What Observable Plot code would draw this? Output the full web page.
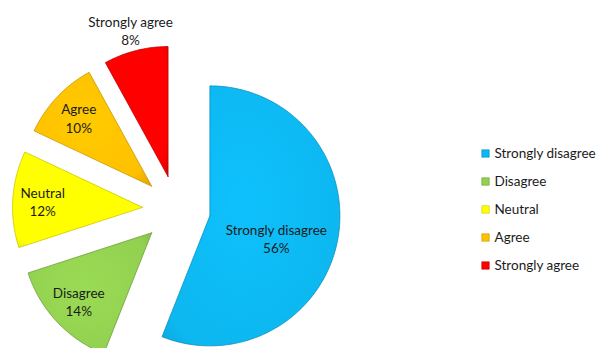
<!DOCTYPE html>
<html>
<head>
<meta charset="utf-8">
<script src="https://cdn.jsdelivr.net/npm/d3@7"></script>
<script src="https://cdn.jsdelivr.net/npm/@observablehq/plot@0.6"></script>
<style>
  html, body { margin: 0; padding: 0; background: #fff; }
  #chart { width: 613px; height: 348px; }
</style>
</head>
<body>
<div id="chart"></div>
<script>
// ---- data ----
const categories = ["Strongly disagree", "Disagree", "Neutral", "Agree", "Strongly agree"];
const shares = [56, 14, 12, 10, 8];
const labelText = ["56%", "14%", "12%", "10%", "8%"];
const colors = ["#0db7ef", "#92d050", "#ffff00", "#ffc000", "#ff0000"];
const edgeColors = ["#0a8fc0", "#6e9e3a", "#c9c900", "#c99700", "#c00000"];

// ---- layout (pixel-like units, center of pie at origin, y downward) ----
const R = 130;         // radius
const explode = 34;    // explosion distance
const font = "Lato, 'Open Sans', sans-serif";

const pie = d3.pie().sort(null).value(d => d)(shares);

const slicePts = [];
const labels = [];
pie.forEach((p, i) => {
  const mid = (p.startAngle + p.endAngle) / 2;
  const ox = explode * Math.sin(mid), oy = -explode * Math.cos(mid);
  slicePts.push({cat: categories[i], x: ox, y: oy});
  const n = Math.max(4, Math.ceil((p.endAngle - p.startAngle) / (Math.PI / 180)));
  for (let k = 0; k <= n; k++) {
    const a = p.startAngle + (p.endAngle - p.startAngle) * k / n;
    slicePts.push({cat: categories[i], x: ox + R * Math.sin(a), y: oy - R * Math.cos(a)});
  }
  slicePts.push({cat: categories[i], x: ox, y: oy});
  const big = shares[i] > 50, tiny = shares[i] < 9;
  const frac = big ? 0.54 : (tiny ? 1.16 : 0.77);
  const la = mid + (big ? 0.14 : 0);
  labels.push({
    cat: categories[i],
    text: categories[i] + "\n" + labelText[i],
    x: ox + frac * R * Math.sin(la),
    y: oy - frac * R * Math.cos(la)
  });
});

// legend rows (positions derived from index)
const legendX = 309, legendY0 = -56, legendStep = 28;
const legend = categories.map((c, i) => ({cat: c, x: legendX, y: legendY0 + i * legendStep}));

const chart = Plot.plot({
  width: 613,
  height: 348,
  margin: 0,
  x: {domain: [-176, 437], range: [0, 613], axis: null},
  y: {domain: [-209, 139], range: [0, 348], axis: null},
  color: {domain: categories, range: colors},
  style: {fontFamily: font, background: "#fff"},
  marks: [
    ...categories.map((c, i) =>
      Plot.line(slicePts.filter(d => d.cat === c), {
        x: "x", y: "y",
        fill: `url(#grad${i})`,
        stroke: edgeColors[i],
        strokeWidth: 0.8,
        curve: "linear"
      })
    ),
    Plot.text(labels, {
      x: "x", y: "y", text: "text",
      fontSize: 13.5, lineHeight: 1.35,
      fill: "#1b1b1b", textAnchor: "middle"
    }),
    Plot.dot(legend, {
      x: "x", y: "y", symbol: "square", r: 4.2,
      fill: "cat", stroke: (d, i) => edgeColors[i], strokeWidth: 0.6
    }),
    Plot.text(legend, {
      x: d => d.x + 9, y: "y", text: "cat",
      textAnchor: "start", fontSize: 13.5, fill: "#1b1b1b"
    })
  ]
});

// gradient definitions for the bevelled look
const svg = d3.select(chart);
const defs = svg.insert("defs", ":first-child");
colors.forEach((c, i) => {
  const g = defs.append("radialGradient").attr("id", `grad${i}`)
    .attr("cx", "45%").attr("cy", "45%").attr("r", "75%");
  g.append("stop").attr("offset", "0%").attr("stop-color", d3.color(c).brighter(0.15));
  g.append("stop").attr("offset", "80%").attr("stop-color", c);
  g.append("stop").attr("offset", "100%").attr("stop-color", d3.color(c).darker(0.35));
});

document.getElementById("chart").append(chart);
</script>
</body>
</html>
